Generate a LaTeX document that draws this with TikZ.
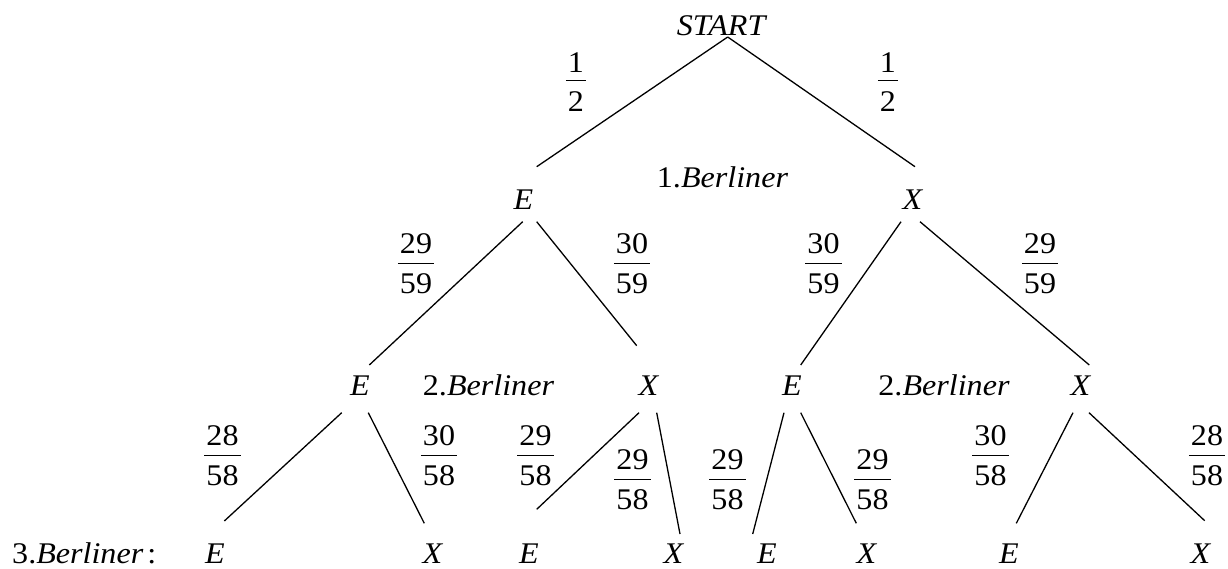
\documentclass[tikz,border=0pt]{standalone}
\usepackage{fontspec}
\setmainfont{Liberation Serif}[FakeStretch=1.07]

% Stacked fraction: numerator, bar, denominator.
% Optional argument: gap between numerator and bar.
\newcommand\frc[3][9pt]{{\renewcommand\arraystretch{0}%
  \setlength\arrayrulewidth{1.3pt}%
  \begin{tabular}{@{\hspace{2pt}}c@{\hspace{2pt}}}
    \rule[-#1]{0pt}{#1}#2\\\hline
    \rule{0pt}{30pt}#3
  \end{tabular}}}

\begin{document}
\begin{tikzpicture}[x=1pt,y=-1pt,
  lbl/.style={font=\fontsize{30}{36}\selectfont, inner sep=0pt, anchor=base},
  prob/.style={font=\fontsize{30}{36}\selectfont, inner sep=0pt},
  branch/.style={line width=1.3pt}]
\useasboundingbox (0,0) rectangle (1228,568);

% ---- outcome labels ----
\node[lbl] (start) at (722,35)   {\textit{START}};
\node[lbl] (b1)    at (722.5,187) {1.\textit{Berliner}};
\node[lbl] (e1)    at (523.5,209) {\textit{E}};
\node[lbl] (x1)    at (913,209)   {\textit{X}};

\node[lbl] (e2a) at (360,395)   {\textit{E}};
\node[lbl] (b2a) at (488.5,395) {2.\textit{Berliner}};
\node[lbl] (x2a) at (649,395)   {\textit{X}};
\node[lbl] (e2b) at (792,395)   {\textit{E}};
\node[lbl] (b2b) at (944,395)   {2.\textit{Berliner}};
\node[lbl] (x2b) at (1081,395)  {\textit{X}};

\node[lbl, anchor=base west] (b3) at (12,563) {3.\textit{Berliner}\hspace{4pt}:};
\node[lbl] (e3a) at (215,563)  {\textit{E}};
\node[lbl] (x3a) at (433,563)  {\textit{X}};
\node[lbl] (e3b) at (529,563)  {\textit{E}};
\node[lbl] (x3b) at (674,563)  {\textit{X}};
\node[lbl] (e3c) at (767,563)  {\textit{E}};
\node[lbl] (x3c) at (867,563)  {\textit{X}};
\node[lbl] (e3d) at (1009,563) {\textit{E}};
\node[lbl] (x3d) at (1201,563) {\textit{X}};

% ---- branch probabilities ----
\node[prob] (p-se) at (576,82)   {\frc[7pt]{1}{2}};
\node[prob] (p-sx) at (888,82)   {\frc[7pt]{1}{2}};

\node[prob] (p-ee) at (416,264)   {\frc{29}{59}};
\node[prob] (p-ex) at (632,264)   {\frc{30}{59}};
\node[prob] (p-xe) at (823.5,264) {\frc{30}{59}};
\node[prob] (p-xx) at (1040,264)  {\frc{29}{59}};

\node[prob] (p-eee) at (222.5,456) {\frc{28}{58}};
\node[prob] (p-eex) at (439,456)   {\frc{30}{58}};
\node[prob] (p-exe) at (535.5,456) {\frc{29}{58}};
\node[prob] (p-exx) at (632.5,480) {\frc{29}{58}};
\node[prob] (p-xee) at (727.5,480) {\frc{29}{58}};
\node[prob] (p-xex) at (872.5,480) {\frc{29}{58}};
\node[prob] (p-xxe) at (990.5,456) {\frc{30}{58}};
\node[prob] (p-xxx) at (1207,456)  {\frc{28}{58}};

% ---- branch end points ----
\coordinate (start-d) at (727.7,37);
\coordinate (e1-u)  at (536.7,166.7);
\coordinate (x1-u)  at (915,166.7);

\coordinate (e1-dl) at (522.7,221.7);
\coordinate (e1-dr) at (536.7,221.7);
\coordinate (x1-dl) at (901,221.7);
\coordinate (x1-dr) at (920,221.7);
\coordinate (e2a-u) at (369.3,365);
\coordinate (x2a-u) at (636.7,345.7);
\coordinate (e2b-u) at (800.7,365);
\coordinate (x2b-u) at (1089.3,365);

\coordinate (e2a-dl) at (341.7,412.7);
\coordinate (e2a-dr) at (368.3,412.7);
\coordinate (x2a-dl) at (639,412.7);
\coordinate (x2a-dr) at (656.7,412.7);
\coordinate (e2b-dl) at (784,412.7);
\coordinate (e2b-dr) at (800.7,412.7);
\coordinate (x2b-dl) at (1073,412.7);
\coordinate (x2b-dr) at (1089,412.7);

\coordinate (e3a-u) at (224.3,521);
\coordinate (x3a-u) at (424.3,523.3);
\coordinate (e3b-u) at (536.7,509.3);
\coordinate (x3b-u) at (680,534);
\coordinate (e3c-u) at (752.7,534);
\coordinate (x3c-u) at (856.3,523.3);
\coordinate (e3d-u) at (1016.3,523.3);
\coordinate (x3d-u) at (1204.7,520.7);

% ---- branches ----
\draw[branch] (start-d) -- (e1-u);
\draw[branch] (start-d) -- (x1-u);

\draw[branch] (e1-dl) -- (e2a-u);
\draw[branch] (e1-dr) -- (x2a-u);
\draw[branch] (x1-dl) -- (e2b-u);
\draw[branch] (x1-dr) -- (x2b-u);

\draw[branch] (e2a-dl) -- (e3a-u);
\draw[branch] (e2a-dr) -- (x3a-u);
\draw[branch] (x2a-dl) -- (e3b-u);
\draw[branch] (x2a-dr) -- (x3b-u);
\draw[branch] (e2b-dl) -- (e3c-u);
\draw[branch] (e2b-dr) -- (x3c-u);
\draw[branch] (x2b-dl) -- (e3d-u);
\draw[branch] (x2b-dr) -- (x3d-u);
\end{tikzpicture}
\end{document}
